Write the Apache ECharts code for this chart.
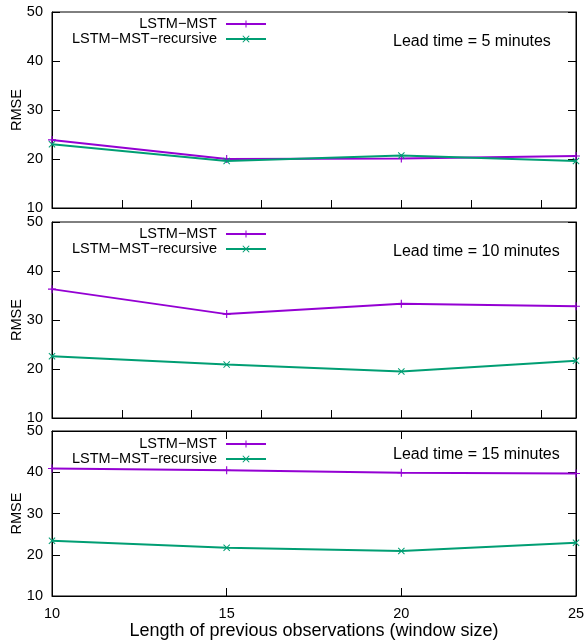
<!DOCTYPE html>
<html lang="en">
<head>
    <meta charset="utf-8">
    <title>RMSE vs window size</title>
    <script type="text/javascript" src="https://cdn.jsdelivr.net/npm/echarts@6/dist/echarts.min.js"></script>
    <style>
        html, body { margin: 0; padding: 0; background: #fff; }
    </style>
</head>
<body>
<div id="main" style="width: 584px;height:641px;"></div>
<script>
    // 数据
    var windowSizes = [10, 15, 20, 25];
    var mst5 = [23.9, 20.0, 20.1, 20.6];
    var rec5 = [23.0, 19.6, 20.7, 19.6];
    var mst10 = [36.3, 31.2, 33.3, 32.8];
    var rec10 = [22.6, 20.9, 19.5, 21.7];
    var mst15 = [40.9, 40.5, 39.9, 39.7];
    var rec15 = [23.4, 21.7, 20.9, 22.9];
    var leadTimes = ['Lead time = 5 minutes', 'Lead time = 10 minutes', 'Lead time = 15 minutes'];
    var seriesNames = ['LSTM\u2212MST', 'LSTM\u2212MST\u2212recursive'];

    var FONT = 'Liberation Sans, Arial, Helvetica, sans-serif';
    var purple = '#9400d3';
    var green = '#009e73';
    var plusPath = 'path://M4.3,0H5.7V4.3H10V5.7H5.7V10H4.3V5.7H0V4.3H4.3Z';
    var crossPath = 'path://M1,0L5,4L9,0L10,1L6,5L10,9L9,10L5,6L1,10L0,9L4,5L0,1Z';

    var panels = [
        {top: 12, height: 196, mst: mst5, rec: rec5, legTop: 4.5, titleTop: 22},
        {top: 222, height: 196, mst: mst10, rec: rec10, legTop: 4.5, titleTop: 22},
        {top: 431, height: 165, mst: mst15, rec: rec15, legTop: 5.5, titleTop: 16}
    ];

    function pairs(arr) {
        return windowSizes.map(function (w, i) { return [w, arr[i]]; });
    }

    var grids = [], xAxes = [], yAxes = [], series = [], legends = [], titles = [];
    panels.forEach(function (p, k) {
        var last = k === panels.length - 1;
        grids.push({left: 52, right: 8, top: p.top, height: p.height,
            outerBoundsMode: 'none', containLabel: false,
            show: true, borderColor: '#000', borderWidth: 1});
        xAxes.push({
            type: 'value', gridIndex: k, min: 10, max: 25, interval: last ? 5 : 2,
            position: 'bottom',
            name: last ? 'Length of previous observations (window size)' : '',
            nameLocation: 'middle', nameGap: 24,
            nameTextStyle: {fontFamily: FONT, fontSize: 18, color: '#000'},
            axisLine: {show: true, lineStyle: {color: '#000', width: 1}},
            axisTick: {show: true, inside: true, length: 8, lineStyle: {color: '#000'}},
            axisLabel: {show: last, fontFamily: FONT, fontSize: 14.5, color: '#000', margin: 10},
            splitLine: {show: false}
        });
        if (last) {
            xAxes.push({
                type: 'value', gridIndex: k, min: 10, max: 25, interval: 5, position: 'top',
                axisLine: {show: true, lineStyle: {color: '#000'}},
                axisTick: {show: true, inside: true, length: 8, lineStyle: {color: '#000'}},
                axisLabel: {show: false}, splitLine: {show: false}
            });
        }
        yAxes.push({
            type: 'value', gridIndex: k, min: 10, max: 50, interval: 10, position: 'left',
            name: 'RMSE', nameLocation: 'middle', nameGap: 28, nameRotate: 90,
            nameMoveOverlap: false,
            nameTextStyle: {fontFamily: FONT, fontSize: 14.5, color: '#000'},
            axisLine: {show: true, lineStyle: {color: '#000'}},
            axisTick: {show: true, inside: true, length: 8, lineStyle: {color: '#000'}},
            axisLabel: {fontFamily: FONT, fontSize: 14.5, color: '#000', margin: 9},
            splitLine: {show: false}
        });
        yAxes.push({
            type: 'value', gridIndex: k, min: 10, max: 50, interval: 10, position: 'right',
            axisLine: {show: true, lineStyle: {color: '#000'}},
            axisTick: {show: true, inside: true, length: 8, lineStyle: {color: '#000'}},
            axisLabel: {show: false}, splitLine: {show: false}
        });
        var xi = xAxes.length - (last ? 2 : 1);
        var yi = yAxes.length - 2;
        series.push({
            name: seriesNames[0], type: 'line', xAxisIndex: xi, yAxisIndex: yi,
            data: pairs(p.mst), color: purple, lineStyle: {width: 2, color: purple},
            symbol: plusPath, symbolSize: 8, itemStyle: {color: purple}, animation: false
        });
        series.push({
            name: seriesNames[1], type: 'line', xAxisIndex: xi, yAxisIndex: yi,
            data: pairs(p.rec), color: green, lineStyle: {width: 2, color: green},
            symbol: crossPath, symbolSize: 7, itemStyle: {color: green}, animation: false
        });
        legends.push({
            data: seriesNames, orient: 'vertical', align: 'right',
            right: 317, top: p.top + p.legTop, padding: 0, itemGap: 0,
            itemWidth: 40, itemHeight: 9, selectedMode: false,
            formatter: function (name) { return name + ' '; },
            textStyle: {fontFamily: FONT, fontSize: 14.5, lineHeight: 15, color: '#000'}
        });
        titles.push({
            text: leadTimes[k], left: 393, top: p.top + p.titleTop, padding: 0,
            textStyle: {fontFamily: FONT, fontSize: 16, fontWeight: 'normal', color: '#000'}
        });
    });

    var myChart = echarts.init(document.getElementById('main'));
    myChart.setOption({
        animation: false,
        title: titles,
        legend: legends,
        grid: grids,
        xAxis: xAxes,
        yAxis: yAxes,
        series: series
    });
</script>
</body>
</html>
